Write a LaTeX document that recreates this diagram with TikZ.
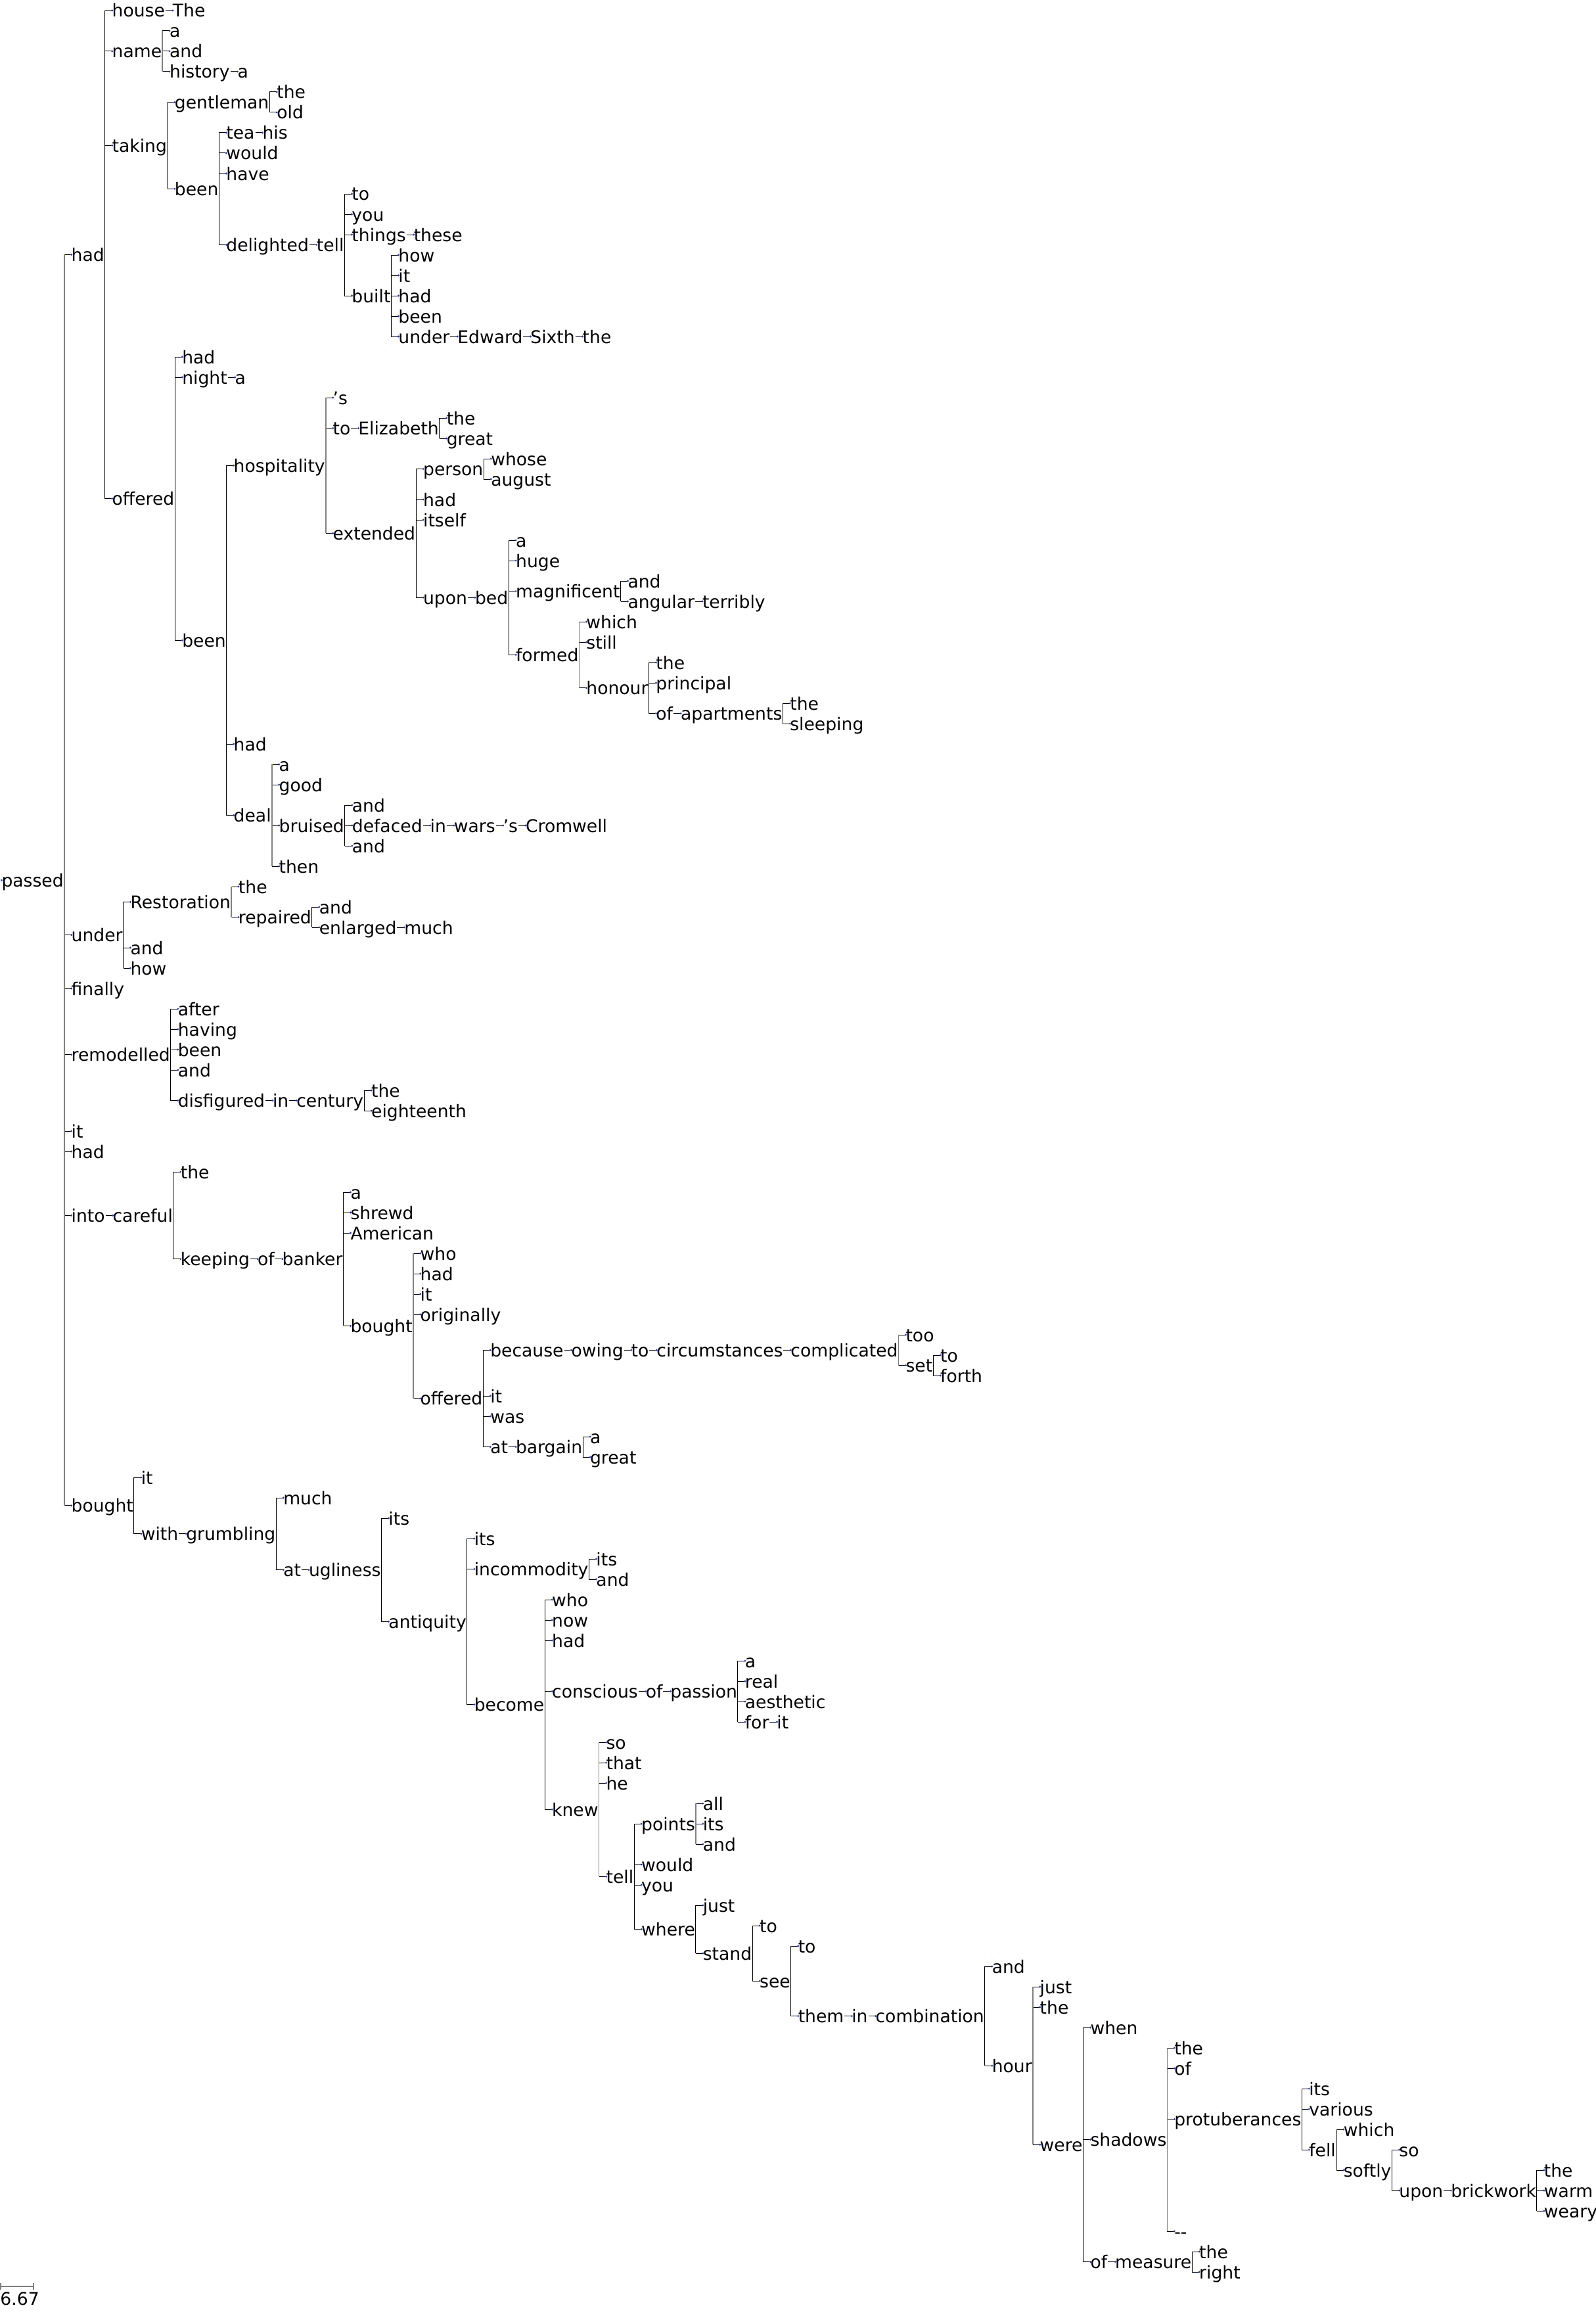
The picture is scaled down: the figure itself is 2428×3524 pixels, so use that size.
\documentclass[tikz,border=0pt]{standalone}
\usepackage{fontspec}
\setmainfont{DejaVu Sans}
\definecolor{dotblue}{RGB}{30,60,220}
\definecolor{lgray}{RGB}{128,128,128}
\tikzset{
 w/.style={anchor=base west, inner sep=0pt, outer sep=0pt, font=\fontsize{26.6}{30}\selectfont},
 tick/.style={draw=black, line width=1pt},
 vb/.style={draw=black, line width=1pt},
 vg/.style={draw=lgray, line width=1.7pt},
}
\newcommand\W[4]{%
  \coordinate (#1d) at ([xshift=12pt]#2.east |- 0,{16+31*(#3)});
  \node[w] (#1) at ([yshift=-10pt]#1d) {#4};
  \draw[tick] ([xshift=1pt]#2.east |- #1d) -- (#1d);
  \fill[dotblue] (#1d) circle (1.6pt);
}
\newcommand\V[4]{\draw[#4] ([xshift=1pt]#1.east |- #2d) -- ([xshift=1pt]#1.east |- #3d);}
\begin{document}
\begin{tikzpicture}[x=1pt,y=-1pt]
\useasboundingbox (0,0) rectangle (2428,3524);
\coordinate (passedd) at (2.5,1339.2);
\node[w] (passed) at ([yshift=-10pt]passedd) {passed};
\fill[dotblue] (passedd) circle (1.6pt);
% --- had
\W{had}{passed}{11.979}{had}
\W{house}{had}{0}{house}
\W{The}{house}{0}{The}
\W{name}{had}{2}{name}
\W{nameA}{name}{1}{a}
\W{nameAnd}{name}{2}{and}
\W{history}{name}{3}{history}
\W{historyA}{history}{3}{a}
\W{taking}{had}{6.625}{taking}
\W{gentleman}{taking}{4.5}{gentleman}
\W{gThe}{gentleman}{4}{the}
\W{gOld}{gentleman}{5}{old}
\W{beenT}{taking}{8.75}{been}
\W{tea}{beenT}{6}{tea}
\W{his}{tea}{6}{his}
\W{would}{beenT}{7}{would}
\W{have}{beenT}{8}{have}
\W{delighted}{beenT}{11.5}{delighted}
\W{tellA}{delighted}{11.5}{tell}
\W{tTo}{tellA}{9}{to}
\W{tYou}{tellA}{10}{you}
\W{things}{tellA}{11}{things}
\W{these}{things}{11}{these}
\W{built}{tellA}{14}{built}
\W{bHow}{built}{12}{how}
\W{bIt}{built}{13}{it}
\W{bHad}{built}{14}{had}
\W{bBeen}{built}{15}{been}
\W{bUnder}{built}{16}{under}
\W{Edward}{bUnder}{16}{Edward}
\W{Sixth}{Edward}{16}{Sixth}
\W{sThe}{Sixth}{16}{the}
\W{offered}{had}{23.957}{offered}
\W{oHad}{offered}{17}{had}
\W{night}{offered}{18}{night}
\W{nA}{night}{18}{a}
\W{beenO}{offered}{30.914}{been}
\W{hosp}{beenO}{22.328}{hospitality}
\W{apS}{hosp}{19}{’s}
\W{hTo}{hosp}{20.5}{to}
\W{Eliz}{hTo}{20.5}{Elizabeth}
\W{eThe}{Eliz}{20}{the}
\W{eGreat}{Eliz}{21}{great}
\W{extended}{hosp}{25.65625}{extended}
\W{person}{extended}{22.5}{person}
\W{whose}{person}{22}{whose}
\W{august}{person}{23}{august}
\W{xHad}{extended}{24}{had}
\W{itself}{extended}{25}{itself}
\W{upon}{extended}{28.8125}{upon}
\W{bed}{upon}{28.8125}{bed}
\W{bedA}{bed}{26}{a}
\W{huge}{bed}{27}{huge}
\W{magn}{bed}{28.5}{magnificent}
\W{mAnd}{magn}{28}{and}
\W{angular}{magn}{29}{angular}
\W{terribly}{angular}{29}{terribly}
\W{formed}{bed}{31.625}{formed}
\W{which}{formed}{30}{which}
\W{still}{formed}{31}{still}
\W{honour}{formed}{33.25}{honour}
\W{hoThe}{honour}{32}{the}
\W{principal}{honour}{33}{principal}
\W{hoOf}{honour}{34.5}{of}
\W{apartments}{hoOf}{34.5}{apartments}
\W{apThe}{apartments}{34}{the}
\W{sleeping}{apartments}{35}{sleeping}
\W{bHad2}{beenO}{36}{had}
\W{deal}{beenO}{39.5}{deal}
\W{dA}{deal}{37}{a}
\W{good}{deal}{38}{good}
\W{bruised}{deal}{40}{bruised}
\W{brAnd}{bruised}{39}{and}
\W{defaced}{bruised}{40}{defaced}
\W{dIn}{defaced}{40}{in}
\W{wars}{dIn}{40}{wars}
\W{wS}{wars}{40}{’s}
\W{Cromwell}{wS}{40}{Cromwell}
\W{brAnd2}{bruised}{41}{and}
\W{then}{deal}{42}{then}
% --- under
\W{under}{passed}{45.375}{under}
\W{Restoration}{under}{43.75}{Restoration}
\W{rThe}{Restoration}{43}{the}
\W{repaired}{Restoration}{44.5}{repaired}
\W{rpAnd}{repaired}{44}{and}
\W{enlarged}{repaired}{45}{enlarged}
\W{much}{enlarged}{45}{much}
\W{uAnd}{under}{46}{and}
\W{uHow}{under}{47}{how}
\W{finally}{passed}{48}{finally}
\W{remod}{passed}{51.25}{remodelled}
\W{after}{remod}{49}{after}
\W{having}{remod}{50}{having}
\W{rBeen}{remod}{51}{been}
\W{rAnd}{remod}{52}{and}
\W{disfig}{remod}{53.5}{disfigured}
\W{dfIn}{disfig}{53.5}{in}
\W{century}{dfIn}{53.5}{century}
\W{cThe}{century}{53}{the}
\W{eighteenth}{century}{54}{eighteenth}
\W{pIt}{passed}{55}{it}
\W{pHad}{passed}{56}{had}
\W{into}{passed}{59.140625}{into}
\W{careful}{into}{59.140625}{careful}
\W{cfThe}{careful}{57}{the}
\W{keeping}{careful}{61.28125}{keeping}
\W{kOf}{keeping}{61.28125}{of}
\W{banker}{kOf}{61.28125}{banker}
\W{bkA}{banker}{58}{a}
\W{shrewd}{banker}{59}{shrewd}
\W{American}{banker}{60}{American}
\W{boughtB}{banker}{64.5625}{bought}
\W{who}{boughtB}{61}{who}
\W{bbHad}{boughtB}{62}{had}
\W{bbIt}{boughtB}{63}{it}
\W{originally}{boughtB}{64}{originally}
\W{offeredB}{boughtB}{68.125}{offered}
\W{because}{offeredB}{65.75}{because}
\W{owing}{because}{65.75}{owing}
\W{oTo}{owing}{65.75}{to}
\W{circ}{oTo}{65.75}{circumstances}
\W{compl}{circ}{65.75}{complicated}
\W{too}{compl}{65}{too}
\W{set}{compl}{66.5}{set}
\W{sTo}{set}{66}{to}
\W{forth}{set}{67}{forth}
\W{obIt}{offeredB}{68}{it}
\W{was}{offeredB}{69}{was}
\W{at}{offeredB}{70.5}{at}
\W{bargain}{at}{70.5}{bargain}
\W{bgA}{bargain}{70}{a}
\W{bgGreat}{bargain}{71}{great}
% --- bought
\W{bought}{passed}{73.3842}{bought}
\W{btIt}{bought}{72}{it}
\W{with}{bought}{74.7684}{with}
\W{grumbling}{with}{74.7684}{grumbling}
\W{gMuch}{grumbling}{73}{much}
\W{gAt}{grumbling}{76.536865}{at}
\W{ugliness}{gAt}{76.536865}{ugliness}
\W{uIts}{ugliness}{74}{its}
\W{antiquity}{ugliness}{79.07373}{antiquity}
\W{aIts}{antiquity}{75}{its}
\W{incomm}{antiquity}{76.5}{incommodity}
\W{iIts}{incomm}{76}{its}
\W{iAnd}{incomm}{77}{and}
\W{become}{antiquity}{83.14746}{become}
\W{bcWho}{become}{78}{who}
\W{now}{become}{79}{now}
\W{bcHad}{become}{80}{had}
\W{conscious}{become}{82.5}{conscious}
\W{csOf}{conscious}{82.5}{of}
\W{passion}{csOf}{82.5}{passion}
\W{psA}{passion}{81}{a}
\W{real}{passion}{82}{real}
\W{aesthetic}{passion}{83}{aesthetic}
\W{for}{passion}{84}{for}
\W{fIt}{for}{84}{it}
\W{knew}{become}{88.29492}{knew}
\W{kSo}{knew}{85}{so}
\W{that}{knew}{86}{that}
\W{he}{knew}{87}{he}
\W{tellB}{knew}{91.58984}{tell}
\W{points}{tellB}{89}{points}
\W{all}{points}{88}{all}
\W{ptIts}{points}{89}{its}
\W{ptAnd}{points}{90}{and}
\W{tbWould}{tellB}{91}{would}
\W{tbYou}{tellB}{92}{you}
\W{where}{tellB}{94.1796875}{where}
\W{wJust}{where}{93}{just}
\W{stand}{where}{95.359375}{stand}
\W{sdTo}{stand}{94}{to}
\W{see}{stand}{96.71875}{see}
\W{seTo}{see}{95}{to}
\W{them}{see}{98.4375}{them}
\W{thIn}{them}{98.4375}{in}
\W{combination}{thIn}{98.4375}{combination}
\W{cAnd}{combination}{96}{and}
\W{hour}{combination}{100.875}{hour}
\W{hJust}{hour}{97}{just}
\W{hThe}{hour}{98}{the}
\W{were}{hour}{104.75}{were}
\W{when}{were}{99}{when}
\W{shadows}{were}{104.5}{shadows}
\W{shThe}{shadows}{100}{the}
\W{shOf}{shadows}{101}{of}
\W{protub}{shadows}{103.5}{protuberances}
\W{prIts}{protub}{102}{its}
\W{various}{protub}{103}{various}
\W{fell}{protub}{105}{fell}
\W{fWhich}{fell}{104}{which}
\W{softly}{fell}{106}{softly}
\W{sfSo}{softly}{105}{so}
\W{sfUpon}{softly}{107}{upon}
\W{brickwork}{sfUpon}{107}{brickwork}
\W{bwThe}{brickwork}{106}{the}
\W{warm}{brickwork}{107}{warm}
\W{weary}{brickwork}{108}{weary}
\W{dashes}{shadows}{109}{{-}{-}}
\W{wOf}{were}{110.5}{of}
\W{measure}{wOf}{110.5}{measure}
\W{mThe}{measure}{110}{the}
\W{right}{measure}{111}{right}
% --- vertical lines
\V{passed}{had}{bought}{vg}
\V{had}{house}{offered}{vb}
\V{name}{nameA}{history}{vg}
\V{taking}{gentleman}{beenT}{vg}
\V{gentleman}{gThe}{gOld}{vb}
\V{beenT}{tea}{delighted}{vb}
\V{tellA}{tTo}{built}{vb}
\V{built}{bHow}{bUnder}{vb}
\V{offered}{oHad}{beenO}{vb}
\V{beenO}{hosp}{deal}{vb}
\V{hosp}{apS}{extended}{vg}
\V{Eliz}{eThe}{eGreat}{vb}
\V{extended}{person}{upon}{vb}
\V{person}{whose}{august}{vb}
\V{bed}{bedA}{formed}{vb}
\V{magn}{mAnd}{angular}{vb}
\V{formed}{which}{honour}{vg}
\V{honour}{hoThe}{hoOf}{vb}
\V{apartments}{apThe}{sleeping}{vb}
\V{deal}{dA}{then}{vg}
\V{bruised}{brAnd}{brAnd2}{vb}
\V{under}{Restoration}{uHow}{vb}
\V{Restoration}{rThe}{repaired}{vg}
\V{repaired}{rpAnd}{enlarged}{vb}
\V{remod}{after}{disfig}{vb}
\V{century}{cThe}{eighteenth}{vb}
\V{careful}{cfThe}{keeping}{vb}
\V{banker}{bkA}{boughtB}{vb}
\V{boughtB}{who}{offeredB}{vg}
\V{offeredB}{because}{at}{vb}
\V{compl}{too}{set}{vg}
\V{set}{sTo}{forth}{vb}
\V{bargain}{bgA}{bgGreat}{vb}
\V{bought}{btIt}{with}{vb}
\V{grumbling}{gMuch}{gAt}{vb}
\V{ugliness}{uIts}{antiquity}{vb}
\V{antiquity}{aIts}{become}{vb}
\V{incomm}{iIts}{iAnd}{vb}
\V{become}{bcWho}{knew}{vb}
\V{passion}{psA}{for}{vb}
\V{knew}{kSo}{tellB}{vg}
\V{tellB}{points}{where}{vb}
\V{points}{all}{ptAnd}{vg}
\V{where}{wJust}{stand}{vb}
\V{stand}{sdTo}{see}{vb}
\V{see}{seTo}{them}{vb}
\V{combination}{cAnd}{hour}{vb}
\V{hour}{hJust}{were}{vg}
\V{were}{when}{wOf}{vb}
\V{shadows}{shThe}{dashes}{vg}
\V{protub}{prIts}{fell}{vb}
\V{fell}{fWhich}{softly}{vg}
\V{softly}{sfSo}{sfUpon}{vb}
\V{brickwork}{bwThe}{weary}{vb}
\V{measure}{mThe}{right}{vb}
% --- scale bar
\coordinate (sbA) at (1,3479);
\coordinate (sbB) at (51,3479);
\draw[vg] (sbA) -- (sbB);
\draw[vg] ([yshift=5pt]sbA) -- ([yshift=-5pt]sbA);
\draw[vg] ([yshift=5pt]sbB) -- ([yshift=-5pt]sbB);
\node[w] (sbT) at (0.5,3507) {6.67};
\end{tikzpicture}
\end{document}
